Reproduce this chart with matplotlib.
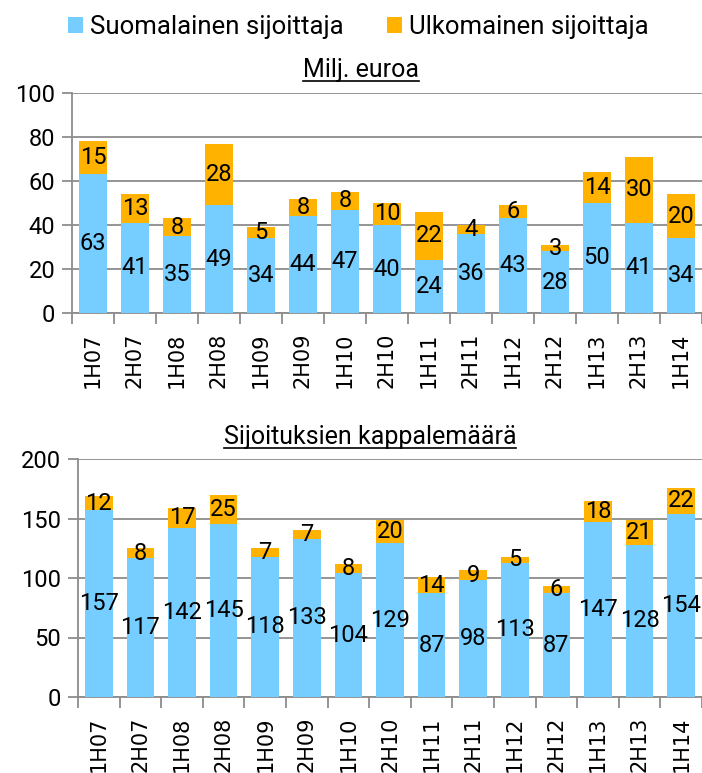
import matplotlib
matplotlib.use("Agg")
import matplotlib.pyplot as plt
from matplotlib.patches import Patch
from matplotlib.lines import Line2D
import numpy as np

plt.rcParams['font.family'] = ['Roboto', 'DejaVu Sans']

periods = ["1H07", "2H07", "1H08", "2H08", "1H09", "2H09", "1H10", "2H10",
           "1H11", "2H11", "1H12", "2H12", "1H13", "2H13", "1H14"]
eur_domestic = [63, 41, 35, 49, 34, 44, 47, 40, 24, 36, 43, 28, 50, 41, 34]
eur_foreign = [15, 13, 8, 28, 5, 8, 8, 10, 22, 4, 6, 3, 14, 30, 20]
cnt_domestic = [157, 117, 142, 145, 118, 133, 104, 129, 87, 98, 113, 87, 147, 128, 154]
cnt_foreign = [12, 8, 17, 25, 7, 7, 8, 20, 14, 9, 5, 6, 18, 21, 22]

series_names = ["Suomalainen sijoittaja", "Ulkomainen sijoittaja"]
title_top = "Milj. euroa"
title_bottom = "Sijoituksien kappalemäärä"

BLUE = "#75CEFF"
ORANGE = "#FFB300"
GRID = "#8C8C8C"

W, H = 702, 773
fig = plt.figure(figsize=(W / 100, H / 100), dpi=100)

def fx(px):
    return px / W

def fy(py):
    return 1 - py / H

ax1 = fig.add_axes([fx(72), fy(313), fx(702) - fx(72), fy(93) - fy(313)])
ax2 = fig.add_axes([fx(78), fy(697), fx(702) - fx(78), fy(459) - fy(697)])

def style(ax, dom, frn, ymax, step):
    x = np.arange(len(periods))
    b1 = ax.bar(x, dom, width=0.66, color=BLUE, edgecolor="none", zorder=3)
    b2 = ax.bar(x, frn, width=0.66, bottom=dom, color=ORANGE, edgecolor="none", zorder=3)
    ax.bar_label(b1, labels=[str(v) for v in dom], label_type="center", fontsize=17, zorder=5)
    ax.bar_label(b2, labels=[str(v) for v in frn], label_type="center", fontsize=17, zorder=5)
    ax.set_xlim(-0.5, len(periods) - 0.5)
    ax.set_ylim(0, ymax)
    ax.set_yticks(np.arange(0, ymax + 1, step))
    ax.yaxis.grid(True, color=GRID, linewidth=1.3, zorder=0)
    ax.set_axisbelow(True)
    for s in ["top", "right"]:
        ax.spines[s].set_visible(False)
    for s in ["left", "bottom"]:
        ax.spines[s].set_color(GRID)
        ax.spines[s].set_linewidth(1.3)
    ax.tick_params(axis="y", length=7, width=1.3, color=GRID, labelsize=17, pad=5)
    ax.set_xticks(x)
    ax.set_xticklabels(periods, rotation=90, fontsize=15, family="DejaVu Sans")
    ax.tick_params(axis="x", which="major", length=0, pad=14)
    ax.set_xticks(np.arange(-0.5, len(periods)), minor=True)
    ax.tick_params(axis="x", which="minor", length=8, width=1.3, color=GRID)
    return b1, b2

style(ax1, eur_domestic, eur_foreign, 100, 20)
style(ax2, cnt_domestic, cnt_foreign, 200, 50)

handles = [Patch(facecolor=BLUE, edgecolor="none"), Patch(facecolor=ORANGE, edgecolor="none")]
fig.legend(handles, series_names, loc="center left", bbox_to_anchor=(fx(68), fy(27)),
           ncol=2, frameon=False, fontsize=18.5, handlelength=0.58, handleheight=0.58,
           handletextpad=0.27, columnspacing=1.7, borderpad=0, borderaxespad=0)

t1 = fig.text(fx(361), fy(70), title_top, ha="center", va="center", fontsize=18)
t2 = fig.text(fx(370), fy(437), title_bottom, ha="center", va="center", fontsize=18)

fig.canvas.draw()
r = fig.canvas.get_renderer()
for t in (t1, t2):
    bb = t.get_window_extent(r).transformed(fig.transFigure.inverted())
    yline = bb.y0 + 0.0015
    fig.add_artist(Line2D([bb.x0, bb.x1], [yline, yline], transform=fig.transFigure,
                          color="black", linewidth=1.2))

fig.savefig("out.png", dpi=100)
